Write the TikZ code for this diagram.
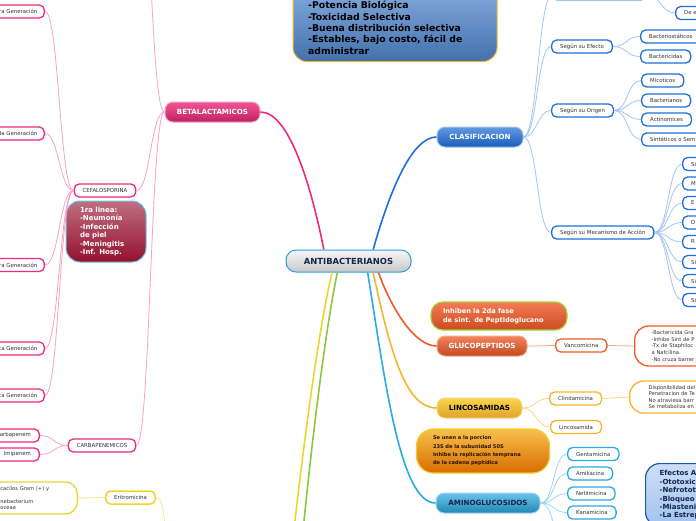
\documentclass[tikz,border=0pt]{standalone}
\usepackage{fontspec}
\setmainfont{DejaVu Sans}
\usetikzlibrary{positioning}

\definecolor{rosa}{HTML}{EE2A7B}
\definecolor{rosaclaro}{HTML}{F7A1C5}
\definecolor{azul}{HTML}{1E6FD9}
\definecolor{azulclaro}{HTML}{A4C4F0}
\definecolor{rojizo}{HTML}{F05A28}
\definecolor{rojizoclaro}{HTML}{F9A98B}
\definecolor{ambar}{HTML}{F7B52C}
\definecolor{ambarclaro}{HTML}{FAD684}
\definecolor{celeste}{HTML}{2AAAE2}
\definecolor{celesteclaro}{HTML}{9BD8F4}
\definecolor{amarillo}{HTML}{EDD52D}
\definecolor{amarilloclaro}{HTML}{F5E88A}
\definecolor{verde}{HTML}{8DC63F}
\definecolor{tinta}{HTML}{333333}
\definecolor{marino}{HTML}{152450}
\definecolor{granate}{HTML}{94102C}

\tikzstyle{raiz} = [rectangle, rounded corners=10pt, draw=celeste!80!azul, line width=1pt, top color=black!3, bottom color=black!22, minimum width=125pt, minimum height=22pt, inner sep=0pt, text=marino, font=\bfseries\fontsize{8.4}{10}\selectfont]
\tikzstyle{rama} = [rectangle, rounded corners=8pt, line width=1pt, minimum height=20pt, inner sep=0pt, font=\bfseries\fontsize{7.1}{8}\selectfont]
\tikzstyle{hoja} = [rectangle, rounded corners=5pt, fill=white, line width=1.3pt, minimum height=13pt, inner xsep=8.5pt, inner ysep=0pt, text=tinta, font=\fontsize{5.4}{6}\selectfont]
\tikzstyle{nota} = [rectangle, rounded corners=14pt, fill=white, line width=1.3pt, align=left, inner ysep=0pt, text=tinta, font=\fontsize{5.2}{6.6}\selectfont]
\tikzstyle{enlace} = [out=0, in=180, out distance=14pt, in distance=14pt]
\tikzstyle{enlaceizq} = [out=180, in=0, out distance=14pt, in distance=14pt]
\tikzstyle{tronco} = [line width=1.6pt]
\tikzstyle{rastro} = [line width=.8pt]

\begin{document}
\begin{tikzpicture}[x=1pt, y=-1pt]
\useasboundingbox (0,0) rectangle (696,520);

\node[raiz] (antibac) at (348.5,261) {ANTIBACTERIANOS};

% nota de arriba
\node[rectangle, rounded corners=14pt, draw=ambar, line width=1pt, top color=azul!45!white, bottom color=azul!70!black!80, minimum width=204pt, minimum height=100pt, anchor=south] (propiedades) at (395,62) {};
\node[anchor=south west, align=left, inner sep=0pt, font=\bfseries\fontsize{9.3}{11.3}\selectfont] (propiedadestxt) at (308,54.5) {-Potencia Biológica\\-Toxicidad Selectiva\\-Buena distribución selectiva\\-Estables, bajo costo, fácil de\\administrar};

% betalactamicos
\node[rama, draw=rosaclaro, top color=rosa!80!white, bottom color=rosa!80!black, text=white, minimum width=95pt] (betalac) at (212.5,112) {BETALACTAMICOS};
\coordinate (betalacarriba) at (137,-150);
\node[hoja, draw=rosa] (cefalo) at (105,190.5) {CEFALOSPORINA};
\node[hoja, draw=rosa] (carbapen) at (102,445.5) {CARBAPENEMICOS};
\node[hoja, draw=rosa, anchor=east, text width=55pt, align=right, inner xsep=7pt] (gen1) at (45,11.5) {ra Generación};
\node[hoja, draw=rosa, anchor=east, text width=55pt, align=right, inner xsep=7pt] (gen2) at (45,133.5) {da Generación};
\node[hoja, draw=rosa, anchor=east, text width=55pt, align=right, inner xsep=7pt] (gen3) at (45,265) {ra Generación};
\node[hoja, draw=rosa, anchor=east, text width=55pt, align=right, inner xsep=7pt] (gen4) at (45,348.5) {ta Generación};
\node[hoja, draw=rosa, anchor=east, text width=55pt, align=right, inner xsep=7pt] (gen5) at (45,395.5) {ta Generación};
\node[hoja, draw=rosa, anchor=east] (carba) at (40,435.5) {arbapenem};
\node[hoja, draw=rosa, anchor=east] (imipenem) at (40,454.5) {Imipenem};
\node[nota, rounded corners=14pt, draw=celeste!70!white, line width=1pt, top color=granate!60!white, bottom color=granate, text=white, minimum width=80pt, minimum height=61pt, text width=52pt, font=\bfseries\fontsize{7}{8.4}\selectfont] (primeralinea) at (106,231.5) {1ra linea:\\-Neumonía\\-Infección\\de piel\\-Meningitis\\-Inf. Hosp.};

\draw[rosa, tronco] (antibac.155) .. controls (312,190) and (290,112) .. (betalac.east);
\draw[rosaclaro, rastro] (betalac.west) to[enlaceizq] (betalacarriba);
\draw[rosaclaro, rastro] (betalac.west) to[enlaceizq] (cefalo.east);
\draw[rosaclaro, rastro] (betalac.west) to[enlaceizq] (carbapen.east);
\foreach \g in {gen1,gen2,gen3,gen4,gen5}
    \draw[rosaclaro, rastro] (cefalo.west) to[enlaceizq] (\g.east);
\draw[rosaclaro, rastro] (carbapen.west) to[enlaceizq] (carba.east);
\draw[rosaclaro, rastro] (carbapen.west) to[enlaceizq] (imipenem.east);

% clasificacion
\node[rama, draw=azulclaro, top color=azul!70!white, bottom color=azul!85!black, text=white, minimum width=86pt] (clas) at (480,137) {CLASIFICACION};
\node[hoja, draw=azulclaro, minimum width=92pt] (clasarriba) at (599,-6) {};
\node[hoja, draw=azul, anchor=west, text width=30pt, align=left] (dee) at (675,13) {De e};
\node[hoja, draw=azul, anchor=west] (efecto) at (551,46.5) {Según su Efecto};
\node[hoja, draw=azul, anchor=west] (origen) at (551,110.5) {Según su Origen};
\node[hoja, draw=azul, anchor=west] (mecanismo) at (551,232.5) {Según su Mecanismo de Acción};
\node[hoja, draw=azul, anchor=west] (bacteriostaticos) at (640,36.5) {Bacteriostáticos};
\node[hoja, draw=azul, anchor=west] (bactericidas) at (640,56.5) {Bactericidas};
\node[hoja, draw=azul, anchor=west] (micoticos) at (641,80.5) {Micoticos};
\node[hoja, draw=azul, anchor=west] (bacterianos) at (641,100.5) {Bacterianos};
\node[hoja, draw=azul, anchor=west] (actinomices) at (641,119.5) {Actinomices};
\node[hoja, draw=azul, anchor=west] (sinteticos) at (641,139.5) {Sintéticos o Sem};

\draw[azul, tronco] (antibac.25) .. controls (390,190) and (412,137) .. (clas.west);
\draw[azulclaro, rastro] (clas.east) to[enlace] (clasarriba.west);
\draw[azulclaro, rastro] (clasarriba.east) to[enlace] (dee.west);
\foreach \h in {efecto,origen,mecanismo}
    \draw[azulclaro, rastro] (clas.east) to[enlace] (\h.west);
\foreach \h in {bacteriostaticos,bactericidas}
    \draw[azulclaro, rastro] (efecto.east) to[enlace] (\h.west);
\foreach \h in {micoticos,bacterianos,actinomices,sinteticos}
    \draw[azulclaro, rastro] (origen.east) to[enlace] (\h.west);
\foreach \letra/\y [count=\i] in {Si/164,M/183.5,E/203,D/222.5,R/242,Si/262,Si/281,Si/300}{
    \node[hoja, draw=azul, anchor=west, text width=30pt, align=left] (accion\i) at (682,\y) {\letra};
    \draw[azulclaro, rastro] (mecanismo.east) to[enlace] (accion\i.west);
}

% glucopeptidos
\node[nota, rounded corners=12pt, draw=verde!80!yellow, line width=1.2pt, top color=rojizo!80!white, bottom color=rojizo!85!black, text=white, minimum width=136pt, minimum height=28pt, text width=112pt, font=\bfseries\fontsize{6.6}{9}\selectfont] (inhiben) at (499,316) {Inhiben la 2da fase\\de sint. de Peptidoglucano};
\node[rama, draw=rojizoclaro, top color=rojizo!75!white, bottom color=rojizo!80!black, text=white, minimum width=90pt] (gluco) at (482,346) {GLUCOPEPTIDOS};
\node[hoja, draw=rojizo, anchor=west] (vanco) at (555,345.5) {Vancomicina};
\node[nota, draw=rojizo, anchor=west, minimum height=40pt, text width=70pt, inner xsep=17pt] (vanconota) at (634,346) {-Bactericida Gra\\-Inhibe Sint de P\\-Tx de Staphiloc\\a Nafcilina.\\-No cruza barrer};

\draw[rojizo, tronco] (antibac.339) .. controls (392,310) and (415,346) .. (gluco.west);
\draw[rojizoclaro, rastro] (gluco.east) -- (vanco.west);
\draw[rojizoclaro, rastro] (vanco.east) -- (vanconota.west);

% lincosamidas
\node[rama, draw=ambarclaro, top color=ambar!70!yellow!80!white, bottom color=ambar!90!black, text=black, minimum width=85pt] (linco) at (479.5,408) {LINCOSAMIDAS};
\node[hoja, draw=ambar, anchor=west] (clinda) at (549,398.5) {Clindamicina};
\node[hoja, draw=ambar, anchor=west] (lincosamida) at (550,427) {Lincosamida};
\node[nota, draw=ambar, anchor=west, minimum height=32pt, text width=70pt, inner xsep=19pt, font=\fontsize{5.2}{6.2}\selectfont] (clindanota) at (629,397) {Disponibilidad del\\Penetracion de Te\\No atraviesa barr\\Se metaboliza en};
\node[nota, rounded corners=17pt, draw=amarillo!90!orange, line width=1.2pt, top color=ambar!85!white, bottom color=orange!85!black, text=black!85!orange, minimum width=133pt, minimum height=44pt, text width=100pt, font=\bfseries\fontsize{5.1}{8.3}\selectfont] (seunen) at (483,451) {Se unen a la porcion\\23S de la subunidad 50S\\Inhibe la replicación temprana\\de la cadena peptídica};

\draw[ambar, tronco] (antibac.335) .. controls (390,350) and (405,408) .. (linco.west);
\draw[ambarclaro, rastro] (linco.east) to[enlace] (clinda.west);
\draw[ambarclaro, rastro] (linco.east) to[enlace] (lincosamida.west);
\draw[ambarclaro, rastro] (clinda.east) -- (clindanota.west);

% aminoglucosidos
\node[rama, draw=celesteclaro, top color=celeste!70!white, bottom color=celeste!80!black, text=marino, minimum width=104pt] (amino) at (488,503) {AMINOGLUCOSIDOS};
\node[hoja, draw=celeste, anchor=west] (gentamicina) at (567,454) {Gentamicina};
\node[hoja, draw=celeste, anchor=west] (amikacina) at (567,473.5) {Amikacina};
\node[hoja, draw=celeste, anchor=west] (netilmicina) at (567,493.5) {Netilmicina};
\node[hoja, draw=celeste, anchor=west] (kanamicina) at (567,512.5) {Kanamicina};
\coordinate (aminoabajo) at (567,545);
\node[nota, anchor=north west, draw=azul!80!black, line width=1.2pt, top color=azul!22!white, bottom color=azul!42!white, text=marino, text width=60pt, inner xsep=14pt, inner ysep=7pt, font=\bfseries\fontsize{7}{8.4}\selectfont] (efectos) at (645,463) {Efectos A\\-Ototoxic\\-Nefrotot\\-Bloqueo\\-Miasteni\\-La Estrep};

\draw[celeste, tronco] (antibac.329) .. controls (385,380) and (400,503) .. (amino.west);
\foreach \h in {gentamicina,amikacina,netilmicina,kanamicina,aminoabajo}
    \draw[celesteclaro, rastro] (amino.east) to[enlace] (\h.west);

% ramas de abajo
\coordinate (macroder) at (289,575);
\coordinate (macroizq) at (175,575);
\coordinate (verdeabajo) at (299,575);
\node[hoja, draw=amarillo, line width=1.5pt] (eritro) at (130.5,497.5) {Eritromicina};
\node[nota, rounded corners=12pt, draw=amarillo, anchor=east, minimum height=32pt, text width=60pt, inner xsep=17pt] (eritronota) at (78,498) {cacilos Gram (+) y\\\mbox{}\\nebacterium\\oceae};

\draw[amarillo, tronco] (antibac.215) .. controls (318,330) and (300,470) .. (macroder);
\draw[verde, tronco] (antibac.226) .. controls (325,330) and (308,470) .. (verdeabajo);
\draw[amarilloclaro, rastro] (macroizq) to[enlaceizq] (eritro.east);
\draw[amarilloclaro, rastro] (eritro.west) -- (eritronota.east);
\end{tikzpicture}
\end{document}
